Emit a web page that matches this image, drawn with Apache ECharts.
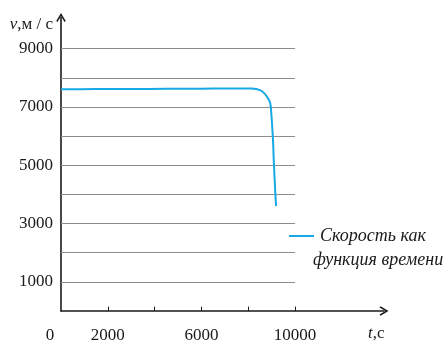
<!DOCTYPE html>
<html>
<head>
<meta charset="utf-8">
<script src="https://cdn.jsdelivr.net/npm/echarts@6/dist/echarts.min.js"></script>
<style>
  html, body { margin: 0; padding: 0; background: #fff; }
  #chart { width: 446px; height: 341px; }
</style>
</head>
<body>
<div id="chart"></div>
<script>
// Time since start, seconds
const timeSec = [0, 1500, 3000, 4500, 6000, 7000, 7800, 8150, 8500, 8720, 8860, 8930, 8965, 9050, 9100, 9160, 9190];
// Velocity, m/s
const speed = [7610, 7614, 7618, 7622, 7628, 7632, 7635, 7632, 7580, 7443, 7272, 7156, 6985, 5993, 4991, 3990, 3600];

// Tick labels shown on the axes
const xTickLabels = [0, 2000, 6000, 10000];
const xTickMarks = [2000, 4000, 6000, 8000, 10000];
const yTickLabels = [1000, 3000, 5000, 7000, 9000];
const gridLevels = [1000, 2000, 3000, 4000, 5000, 6000, 7000, 8000, 9000];
const gridEndX = 10000;

const seriesName = 'Скорость как функция времени';
const legendLine1 = 'Скорость как';
const legendLine2 = 'функция времени';

const SERIF = '"Liberation Serif", "DejaVu Serif", serif';
const INK = '#1a1a1a';
const LINE_BLUE = '#16a9e5';
const GRID_GREY = '#8c8c8c';

// open chevron pointing "up" in symbol space; rotated along the axis by ECharts
const chevron = 'path://M5,0 L10,8.4 L8.7,9.5 L5,3.2 L1.3,9.5 L0,8.4 Z';

const gridLines = gridLevels.map(v => [
  { coord: [0, v], lineStyle: { color: GRID_GREY, width: 1, type: 'solid' } },
  { coord: [gridEndX, v] }
]);
const xTicks = xTickMarks.map(t => [
  { coord: [t, 0], lineStyle: { color: INK, width: 1, type: 'solid' } },
  { coord: [t, 150] }
]);

const chart = echarts.init(document.getElementById('chart'));
chart.setOption({
  animation: false,
  backgroundColor: '#fff',
  grid: { left: 61, right: 62, top: 17.5, bottom: 30, containLabel: false, outerBoundsMode: 'none' },
  title: {
    text: legendLine2,
    left: 313, top: 251, padding: 0,
    textStyle: { fontFamily: SERIF, fontStyle: 'italic', fontWeight: 'normal', fontSize: 18, color: INK }
  },
  legend: {
    data: [seriesName],
    left: 288, top: 227, padding: 0,
    icon: 'inherit',
    itemWidth: 25, itemHeight: 14, itemGap: 0,
    itemStyle: { opacity: 0 },
    formatter: () => legendLine1,
    textStyle: { fontFamily: SERIF, fontStyle: 'italic', fontSize: 18, color: INK, padding: [0, 0, 0, 1] }
  },
  xAxis: {
    type: 'value',
    min: 0, max: 13800, interval: 2000,
    name: '{i|t},с',
    nameLocation: 'end',
    nameGap: -16,
    nameTextStyle: {
      align: 'left', verticalAlign: 'top', padding: [14, 0, 0, 0],
      fontFamily: SERIF, fontSize: 17, color: INK,
      rich: { i: { fontFamily: SERIF, fontSize: 17, fontStyle: 'italic', color: INK } }
    },
    axisLine: {
      show: true, onZero: false,
      symbol: ['none', chevron], symbolSize: [10, 9],
      lineStyle: { color: INK, width: 1.6 }
    },
    axisTick: { show: false },
    splitLine: { show: false },
    axisLabel: {
      margin: 16,
      fontFamily: SERIF, fontSize: 17, color: INK,
      showMaxLabel: false,
      formatter: v => v === 0 ? '{z|0}' : (xTickLabels.includes(v) ? String(v) : ''),
      rich: { z: { fontFamily: SERIF, fontSize: 17, color: INK, padding: [0, 22, 0, 0] } }
    }
  },
  yAxis: {
    type: 'value',
    min: 0, max: 10070, interval: 1000,
    name: '{i|v},м / с',
    nameLocation: 'end',
    nameGap: -7.5,
    nameTextStyle: {
      align: 'right', verticalAlign: 'middle', padding: [0, 8, 0, 0],
      fontFamily: SERIF, fontSize: 17, color: INK,
      rich: { i: { fontFamily: SERIF, fontSize: 17, fontStyle: 'italic', color: INK } }
    },
    axisLine: {
      show: true, onZero: false,
      symbol: ['none', chevron], symbolSize: [10, 9],
      lineStyle: { color: INK, width: 1.6 }
    },
    axisTick: { show: false },
    splitLine: { show: false },
    axisLabel: {
      margin: 8,
      padding: [3, 0, 0, 0],
      fontFamily: SERIF, fontSize: 17, color: INK,
      formatter: v => yTickLabels.includes(v) ? String(v) : ''
    }
  },
  series: [
    {
      // horizontal reference lines and x-axis tick marks
      type: 'line',
      name: 'guides',
      data: [],
      clip: false,
      silent: true,
      markLine: {
        silent: true,
        symbol: ['none', 'none'],
        label: { show: false },
        animation: false,
        data: gridLines.concat(xTicks)
      }
    },
    {
      type: 'line',
      name: seriesName,
      data: timeSec.map((t, i) => [t, speed[i]]),
      symbol: 'none',
      smooth: 0.3,
      clip: false,
      lineStyle: { color: LINE_BLUE, width: 2 },
      itemStyle: { color: LINE_BLUE },
      z: 5
    }
  ]
});
</script>
</body>
</html>
